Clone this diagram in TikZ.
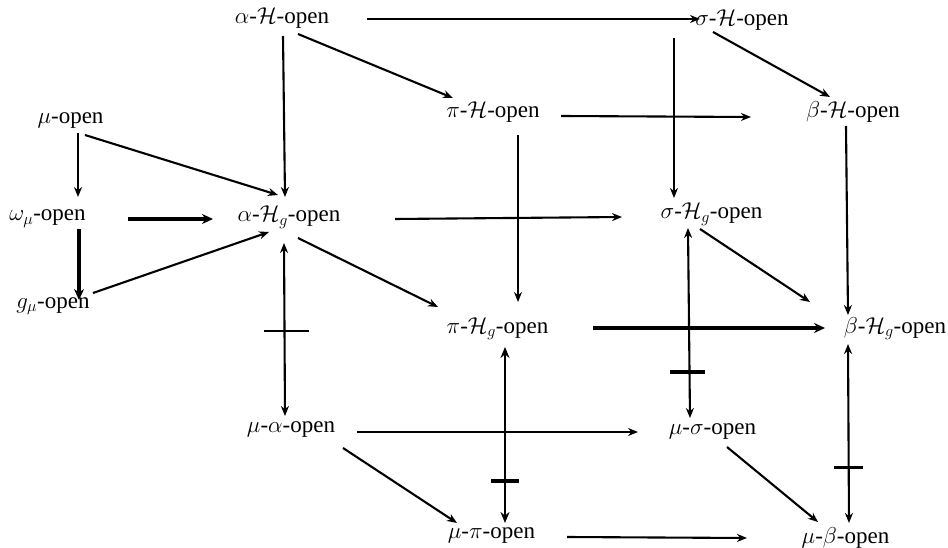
\RequirePackage{fix-cm}
\documentclass[tikz,border=0pt]{standalone}
\usepackage{fontspec}
\setmainfont{Liberation Serif}
\usetikzlibrary{calc,arrows.meta}
\begin{document}
\begin{tikzpicture}[x=1pt,y=-1pt,
  lbl/.style={anchor=base,inner sep=0pt,font=\fontsize{23}{26}\selectfont},
  ar/.style={line width=2.1pt,-{Stealth[length=10pt,width=8pt]}},
  tar/.style={line width=3.8pt,-{Stealth[length=11pt,width=10pt]}},
  dar/.style={line width=2.1pt,{Stealth[length=10pt,width=8pt]}-{Stealth[length=10pt,width=8pt]}},
  tdar/.style={line width=2.8pt,{Stealth[length=11pt,width=9pt]}-{Stealth[length=11pt,width=9pt]}},
  negbar/.style={fill=black,inner sep=0pt,minimum height=#1,outer sep=0pt},
  negbar/.default=2.2pt]
\useasboundingbox (0,0) rectangle (948,548);
% nodes
\node[lbl] (aH)  at (282,24)   {$\alpha$-$\mathcal{H}$-open};
\node[lbl] (sH)  at (742,26)   {$\sigma$-$\mathcal{H}$-open};
\node[lbl] (mu)  at (70.5,124) {$\mu$-open};
\node[lbl] (pH)  at (493,118)  {$\pi$-$\mathcal{H}$-open};
\node[lbl] (bH)  at (853,118)  {$\beta$-$\mathcal{H}$-open};
\node[lbl] (om)  at (47.5,221) {$\omega_\mu$-open};
\node[lbl] (aHg) at (289,222)  {$\alpha$-$\mathcal{H}_g$-open};
\node[lbl] (sHg) at (711.5,219){$\sigma$-$\mathcal{H}_g$-open};
\node[lbl] (gm)  at (53,308)   {$g_\mu$-open};
\node[lbl] (pHg) at (497.5,333){$\pi$-$\mathcal{H}_g$-open};
\node[lbl] (bHg) at (895,333)  {$\beta$-$\mathcal{H}_g$-open};
\node[lbl] (ma)  at (291,432)  {$\mu$-$\alpha$-open};
\node[lbl] (ms)  at (712.5,434){$\mu$-$\sigma$-open};
\node[lbl] (mp)  at (491.5,538){$\mu$-$\pi$-open};
\node[lbl] (mb)  at (845.5,543){$\mu$-$\beta$-open};
% arrows
\draw[ar] ($(aH.base)+(85,-5)$) -- ($(sH.base)+(-42,-7)$);
\draw[ar] ($(aH.base)+(1,12)$) -- ($(aHg.base)+(-4,-25)$);
\draw[ar] ($(aH.base)+(16,10)$) -- ($(pH.base)+(-40,-20)$);
\draw[ar] ($(sH.base)+(-29,6)$) -- ($(bH.base)+(-23,-21)$);
\draw[ar] ($(sH.base)+(-68,12)$) -- ($(sHg.base)+(-37.5,-21)$);
\draw[ar] ($(pH.base)+(68,-2)$) -- ($(bH.base)+(-102,-1)$);
\draw[ar] ($(pH.base)+(25,17)$) -- ($(pHg.base)+(20.5,-31)$);
\draw[ar] ($(mu.base)+(7.5,9)$) -- ($(om.base)+(30.5,-24)$);
\draw[ar] ($(mu.base)+(14.5,11)$) -- ($(aHg.base)+(-11,-27)$);
\draw[tar] ($(om.base)+(80.5,-2)$) -- ($(aHg.base)+(-76,-3)$);
\draw[tar] ($(om.base)+(31.5,8)$) -- ($(gm.base)+(26,-8)$);
\draw[ar] ($(gm.base)+(40,-15)$) -- ($(aHg.base)+(-20,10)$);
\draw[ar] ($(aHg.base)+(106,-3)$) -- ($(sHg.base)+(-89.5,-2)$);
\draw[ar] ($(bH.base)+(-7,8)$) -- ($(bHg.base)+(-47,-18)$);
\draw[ar] ($(sHg.base)+(-11.5,10)$) -- ($(bHg.base)+(-85,-31)$);
\draw[ar] ($(aHg.base)+(9,16)$) -- ($(pHg.base)+(-59.5,-26)$);
\draw[tar] ($(pHg.base)+(95.5,-5)$) -- ($(bHg.base)+(-70,-5)$);
\draw[ar] ($(ma.base)+(66,0)$) -- ($(ms.base)+(-74.5,-2)$);
\draw[ar] ($(ma.base)+(52,16)$) -- ($(mp.base)+(-34.5,-15)$);
\draw[ar] ($(ms.base)+(14.5,13)$) -- ($(mb.base)+(-27.5,-21)$);
\draw[ar] ($(mp.base)+(75.5,-1)$) -- ($(mb.base)+(-98.5,-5)$);
% negated double arrows
\draw[dar] ($(aHg.base)+(-5,21)$) -- node[pos=0.51,negbar,minimum width=45pt,xshift=2pt] {} ($(ma.base)+(-6,-16)$);
\draw[dar] ($(sHg.base)+(-23.5,9)$) -- node[pos=0.76,negbar=4pt,minimum width=35pt,xshift=-2pt] {} ($(ms.base)+(-22.5,-16)$);
\draw[tdar] ($(pHg.base)+(7.5,14)$) -- node[pos=0.76,negbar=4pt,minimum width=28pt] {} ($(mp.base)+(13.5,-15)$);
\draw[dar] ($(bHg.base)+(-47,11)$) -- node[pos=0.69,negbar,minimum width=29pt] {} ($(mb.base)+(3.5,-20)$);
\end{tikzpicture}
\end{document}
